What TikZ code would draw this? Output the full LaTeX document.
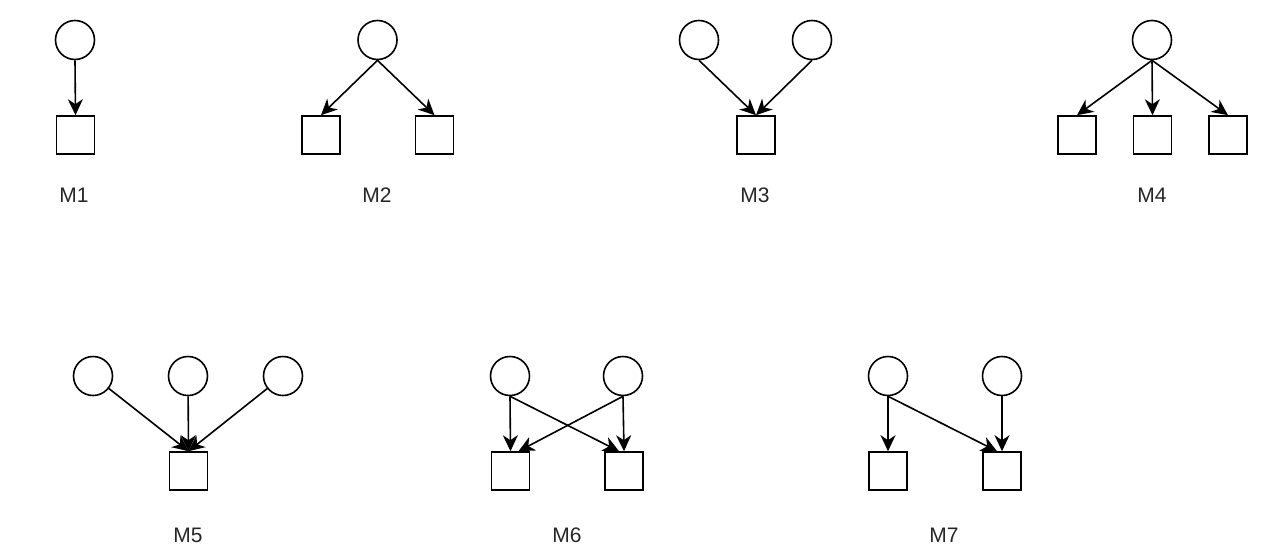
\documentclass[tikz,border=0pt]{standalone}
\usepackage{fontspec}
\setmainfont{Liberation Sans}
\usetikzlibrary{arrows.meta}
\begin{document}
\begin{tikzpicture}[x=1pt,y=-1pt,
  state/.style={circle,draw,line width=1.6pt,minimum size=39pt,inner sep=0pt},
  obs/.style={rectangle,draw,line width=1.6pt,minimum size=38pt,inner sep=0pt},
  lab/.style={font=\fontsize{21}{23}\selectfont,text=black!85,inner sep=0pt},
  edge/.style={line width=1.6pt,-{Stealth[length=16pt,width=15pt,inset=5pt]}}]
\useasboundingbox (0,0) rectangle (1284,557);

% M1
\node[state] (a1) at (75,40) {};
\node[obs] (b1) at (75.5,135) {};
\node[lab] (t1) at (74,195) {M1};
\draw[edge] (a1.south) -- (b1.north);

% M2
\node[state] (a2) at (377.5,40) {};
\node[obs] (b2l) at (321,135) {};
\node[obs] (b2r) at (434.5,135) {};
\node[lab] (t2) at (377,195) {M2};
\draw[edge] (a2.south) -- (b2l.north);
\draw[edge] (a2.south) -- (b2r.north);

% M3
\node[state] (a3l) at (699,40) {};
\node[state] (a3r) at (812,40) {};
\node[obs] (b3) at (756,135) {};
\node[lab] (t3) at (755,195) {M3};
\draw[edge] (a3l.south) -- (b3.north);
\draw[edge] (a3r.south) -- (b3.north);

% M4
\node[state] (a4) at (1152,40) {};
\node[obs] (b4l) at (1077,135) {};
\node[obs] (b4m) at (1152.5,135) {};
\node[obs] (b4r) at (1228,135) {};
\node[lab] (t4) at (1152,195) {M4};
\draw[edge] (a4.south) -- (b4l.north);
\draw[edge] (a4.south) -- (b4m.north);
\draw[edge] (a4.south) -- (b4r.north);

% M5
\node[state] (a5l) at (93,376) {};
\node[state] (a5m) at (188,376) {};
\node[state] (a5r) at (283,376) {};
\node[obs] (b5) at (188.5,471) {};
\node[lab] (t5) at (188,535.5) {M5};
\draw[edge] (a5l) -- (b5.north);
\draw[edge] (a5m) -- (b5.north);
\draw[edge] (a5r) -- (b5.north);

% M6
\node[state] (a6l) at (510,376) {};
\node[state] (a6r) at (623,376) {};
\node[obs] (b6l) at (510.5,471) {};
\node[obs] (b6r) at (624,471) {};
\node[lab] (t6) at (567,535.5) {M6};
\draw[edge] (a6l.south) -- (b6l.north);
\draw[edge] (a6l.south) -- ([xshift=-5pt]b6r.north);
\draw[edge] (a6r.south) -- ([xshift=8pt]b6l.north);
\draw[edge] (a6r.south) -- (b6r.north);

% M7
\node[state] (a7l) at (888,376) {};
\node[state] (a7r) at (1002,376) {};
\node[obs] (b7l) at (888,471) {};
\node[obs] (b7r) at (1002,471) {};
\node[lab] (t7) at (944,535.5) {M7};
\draw[edge] (a7l.south) -- (b7l.north);
\draw[edge] (a7l.south) -- ([xshift=-5pt]b7r.north);
\draw[edge] (a7r.south) -- (b7r.north);
\end{tikzpicture}
\end{document}
